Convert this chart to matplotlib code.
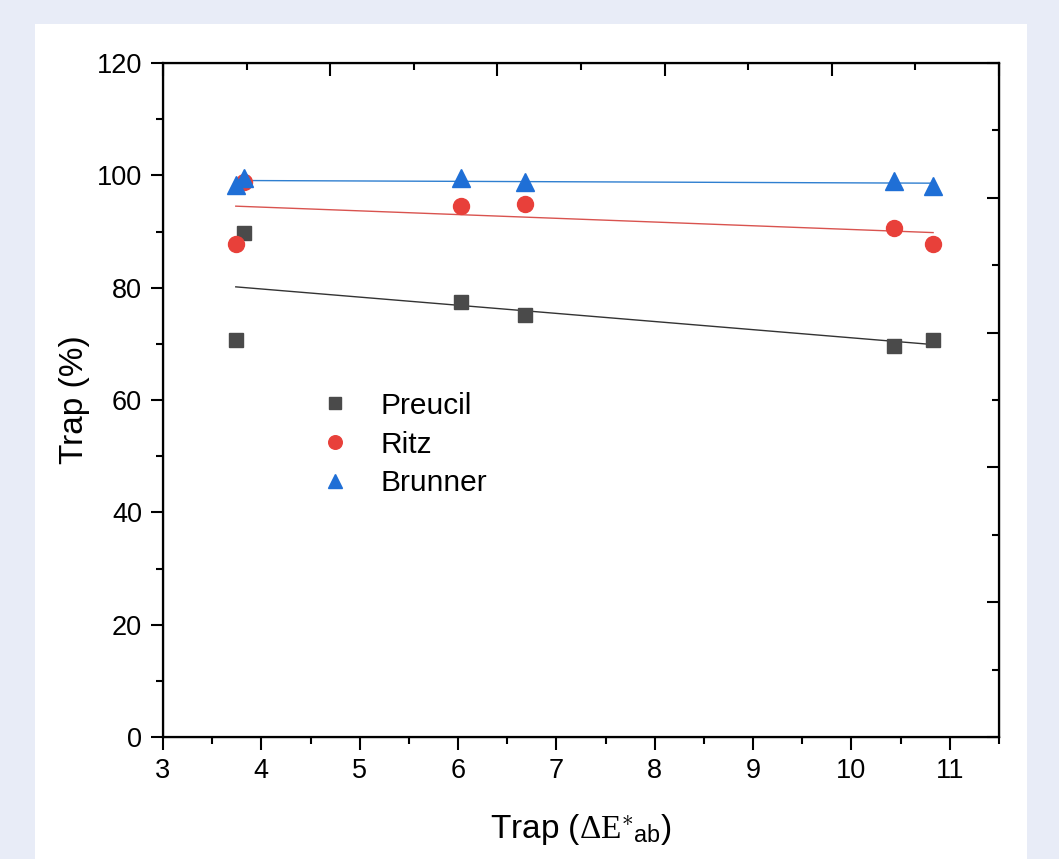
import matplotlib.pyplot as plt
import numpy as np
from matplotlib.patches import Rectangle

plt.rcParams["font.family"] = ["Liberation Sans", "DejaVu Sans"]
plt.rcParams["mathtext.fontset"] = "custom"
plt.rcParams["mathtext.rm"] = "Liberation Serif"
plt.rcParams["mathtext.sf"] = "Liberation Sans"
plt.rcParams["mathtext.it"] = "Liberation Serif:italic"

# Trap values for the three methods
de_ab = np.array([3.74, 3.82, 6.03, 6.68, 10.43, 10.83])
preucil = np.array([70.7, 89.7, 77.4, 75.1, 69.6, 70.7])
ritz = np.array([87.8, 98.8, 94.5, 94.9, 90.6, 87.8])
brunner = np.array([98.3, 99.5, 99.5, 98.8, 99.0, 98.1])

series = [
    ("Preucil", preucil, "s", "#4a4a4a", "#333333", 10.5),
    ("Ritz", ritz, "o", "#e8403a", "#d9534f", 11.5),
    ("Brunner", brunner, "^", "#1f6fd6", "#2f7fd0", 12.5),
]

fig = plt.figure(figsize=(10.59, 8.59), dpi=100, facecolor="#e8ecf7")
fig.patches.append(Rectangle((35 / 1059, 0), (1027 - 35) / 1059, (859 - 24) / 859,
                             transform=fig.transFigure, facecolor="white",
                             edgecolor="none", zorder=-10))

ax = fig.add_axes([163 / 1059, 122 / 859, 836 / 1059, 674 / 859])

for name, y, marker, color, lcolor, ms in series:
    slope, icpt = np.polyfit(de_ab, y, 1)
    xf = np.array([de_ab.min(), de_ab.max()])
    ax.plot(xf, slope * xf + icpt, color=lcolor, lw=1.0, zorder=2)
for name, y, marker, color, lcolor, ms in series:
    ax.plot(de_ab, y, ls="none", marker=marker, ms=ms, color=color,
            mec=color, label=name, zorder=3)

ax.set_xlim(3, 11.5)
ax.set_ylim(0, 120)
ax.set_xticks(np.arange(3, 12, 1))
ax.set_xticks(np.arange(3.5, 11.6, 1), minor=True)
ax.set_yticks(np.arange(0, 121, 20))
ax.set_yticks(np.arange(10, 120, 20), minor=True)
ax.tick_params(which="major", direction="out", length=9, width=1.5,
               labelsize=19.5, pad=6)
ax.tick_params(which="minor", direction="out", length=5, width=1.5)
for s in ax.spines.values():
    s.set_linewidth(1.6)

ax.set_xlabel(r"Trap ($\mathrm{\Delta E}^{\ast}{}_{\mathsf{ab}}$)", fontsize=24, labelpad=20)
ax.set_ylabel("Trap (%)", fontsize=24, labelpad=5)

# inward ticks on the top and right frame
top = ax.twiny()
top.set_xlim(0, 5)
top.set_xticks(np.arange(0, 6, 1))
top.set_xticks(np.arange(0.5, 5, 1), minor=True)
top.tick_params(which="both", direction="in", labeltop=False, width=1.5)
top.tick_params(which="major", length=9)
top.tick_params(which="minor", length=5)

right = ax.twinx()
right.set_ylim(0, 5)
right.set_yticks(np.arange(0, 6, 1))
right.set_yticks(np.arange(0.5, 5, 1), minor=True)
right.tick_params(which="both", direction="in", labelright=False, width=1.5)
right.tick_params(which="major", length=9)
right.tick_params(which="minor", length=5)

ax.legend(loc="upper left", bbox_to_anchor=(0.156, 0.552), frameon=False,
          fontsize=21.5, handlelength=1.0, handletextpad=1.0, labelspacing=0.36,
          markerscale=0.85)

fig.savefig("out.png", dpi=100, facecolor=fig.get_facecolor())
